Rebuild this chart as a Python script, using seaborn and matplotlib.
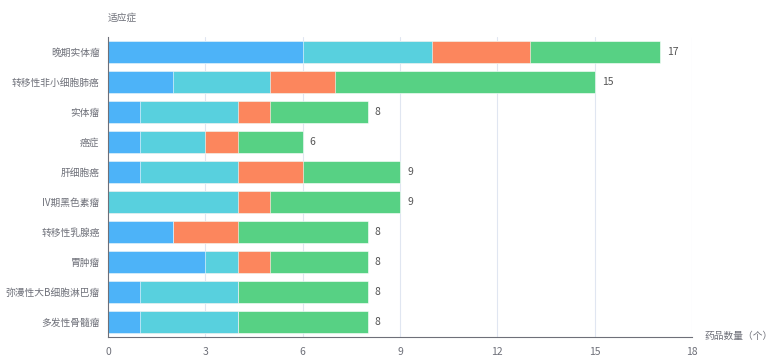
import seaborn as sns
import matplotlib.pyplot as plt
import pandas as pd
import numpy as np

# 适应症 (top to bottom)
categories = ['晚期实体瘤', '转移性非小细胞肺癌', '实体瘤', '癌症', '肝细胞癌',
              'IV期黑色素瘤', '转移性乳腺癌', '胃肿瘤', '弥漫性大B细胞淋巴瘤', '多发性骨髓瘤']
s1 = [6, 2, 1, 1, 1, 0, 2, 3, 1, 1]
s2 = [4, 3, 3, 2, 3, 4, 0, 1, 3, 3]
s3 = [3, 2, 1, 1, 2, 1, 2, 1, 0, 0]
s4 = [4, 8, 3, 2, 3, 4, 4, 3, 4, 4]
colors = ['#4DB3F8', '#58D0DE', '#FC865D', '#57D184']

sns.set_theme(style='white')
plt.rcParams['font.family'] = ['Noto Sans CJK SC', 'DejaVu Sans']

df = pd.DataFrame({'cat': categories, 's1': s1, 's2': s2, 's3': s3, 's4': s4})
cum = df[['s1', 's2', 's3', 's4']].cumsum(axis=1)

fig = plt.figure(figsize=(7.79, 3.58), dpi=100)
ax = fig.add_axes([108 / 779, 21 / 358, 584 / 779, 300 / 358])

# stack by overlaying cumulative sums, biggest first
for col, c in zip(['s4', 's3', 's2', 's1'], colors[::-1]):
    sns.barplot(x=cum[col], y=df['cat'], orient='h', color=c, width=0.73,
                saturation=1, edgecolor='white', linewidth=0.4, ax=ax)

text_c = '#6E7079'
for i, tot in enumerate(cum['s4']):
    ax.text(tot + 0.22, i, str(int(tot)), va='center', ha='left', fontsize=7.5, color='#555555')

ax.set_xlim(0, 18)
ax.set_ylim(9.5, -0.5)
ax.set_xticks(np.arange(0, 19, 3))
ax.xaxis.grid(True, color='#E0E6F1', linewidth=0.8)
ax.set_axisbelow(True)
for s in ['top', 'right']:
    ax.spines[s].set_visible(False)
ax.spines['bottom'].set_color('#6E7079')
ax.spines['left'].set_color('#6E7079')
ax.spines['left'].set_linewidth(0.8)
ax.spines['bottom'].set_linewidth(0.8)

ax.set_yticks(np.arange(-0.5, 10, 1), minor=True)
ax.tick_params(axis='y', which='major', length=0, labelsize=7, labelcolor=text_c, pad=6)
ax.tick_params(axis='y', which='minor', length=4, color='#6E7079', width=0.8)
ax.tick_params(axis='x', length=4, color='#6E7079', labelsize=7.5, labelcolor=text_c, pad=3, width=0.8)
ax.set_xlabel('')
ax.set_ylabel('')

fig.text(108 / 779, 1 - 18 / 358, '适应症', fontsize=7, color=text_c, ha='left', va='center')
fig.text(704 / 779, 1 - 336 / 358, '药品数量（个）', fontsize=7, color=text_c, ha='left', va='center')

plt.savefig('out.png', dpi=100)
